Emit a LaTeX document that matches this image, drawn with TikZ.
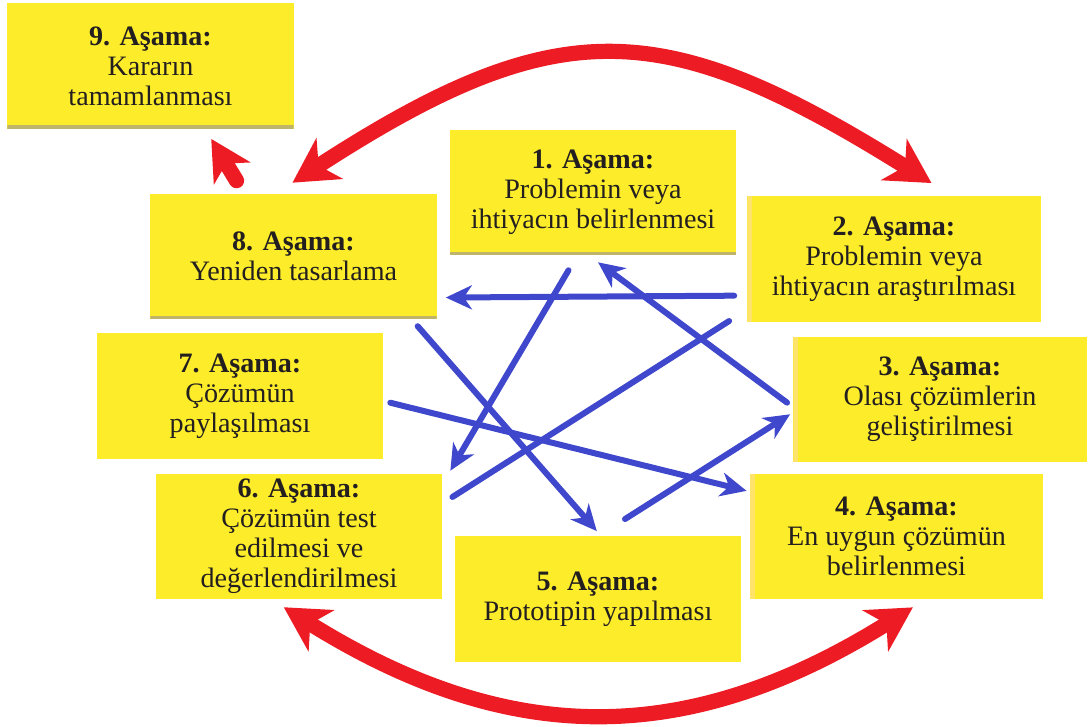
\documentclass[tikz,border=0pt]{standalone}
\usepackage{fontspec}
\setmainfont{Liberation Serif}
\usetikzlibrary{arrows.meta}
\definecolor{stageyellow}{HTML}{FCEC2A}
\definecolor{stagetan}{HTML}{BFB56A}
\definecolor{stagelight}{HTML}{FFE36B}
\definecolor{linkblue}{HTML}{3F48CC}
\definecolor{swingred}{HTML}{ED1C24}
\definecolor{textgray}{HTML}{231F20}

\begin{document}
\begin{tikzpicture}[x=0.025cm, y=-0.025cm, font=\fontsize{20}{21.3}\selectfont, text=textgray]
\tikzstyle{stage}=[fill=stageyellow, align=center, inner sep=0pt, minimum width=7.15cm, minimum height=3.125cm]
\tikzstyle{Wstage}=[stage, minimum width=7.325cm]
\tikzstyle{shadeB}=[path picture={\fill[stagetan] ([yshift=0.08cm]path picture bounding box.south west) rectangle (path picture bounding box.south east);}]
\tikzstyle{shadeL}=[path picture={\fill[stagelight] (path picture bounding box.south west) rectangle ([xshift=0.12cm]path picture bounding box.north west);}]
\tikzstyle{link}=[draw=linkblue, line width=0.15cm, line cap=round, -{Stealth[length=0.65cm, width=0.6cm, inset=0.2cm]}]
\tikzstyle{swing}=[draw=swingred, line width=0.38cm, {Stealth[length=1.1cm, width=1.2cm, inset=0.32cm]}-{Stealth[length=1.1cm, width=1.2cm, inset=0.32cm]}]
\tikzstyle{back}=[draw=swingred, line width=0.38cm, line cap=round, -{Stealth[length=1cm, width=1.05cm, inset=0.28cm]}]

\useasboundingbox (0,0) rectangle (1088,727);

\node[stage, shadeB] (b9) at (150.5,66) {\textbf{9. Aşama:}\\Kararın\\tamamlanması};
\node[stage, shadeB] (b1) at (593,192.5) {\textbf{1. Aşama:}\\Problemin veya\\ihtiyacın belirlenmesi};
\node[Wstage, shadeL] (b2) at (894,259) {\textbf{2. Aşama:}\\Problemin veya\\ihtiyacın araştırılması};
\node[Wstage, shadeL] (b3) at (940,399.5) {\textbf{3. Aşama:}\\Olası çözümlerin\\geliştirilmesi};
\node[Wstage, shadeL] (b4) at (896.5,536.5) {\textbf{4. Aşama:}\\En uygun çözümün\\belirlenmesi};
\node[stage] (b5) at (598,599) {\textbf{5. Aşama:}\\Prototipin yapılması};
\node[stage] (b6) at (299,536.5) {\textbf{6. Aşama:}\\Çözümün test\\edilmesi ve\\değerlendirilmesi};
\node[stage] (b7) at (240,396) {\textbf{7. Aşama:}\\Çözümün\\paylaşılması};
\node[stage, shadeB] (b8) at (293.5,256.5) {\textbf{8. Aşama:}\\Yeniden tasarlama};

\draw[link, shorten <=0.325cm, shorten >=0.225cm] (b2.194) -- (b8.344);
\draw[link, shorten <=0.435cm, shorten >=0.395cm] (b1.256) -- (b6.20);
\draw[link, shorten <=0.19cm, shorten >=0.295cm] (b3.183) -- (b1.266);
\draw[link, -, shorten <=0.3cm, shorten >=0.535cm] (b6.13) -- (b2.199);
\draw[link, shorten <=0.23cm, shorten >=0.17cm] (b8.332) -- (b5.87);
\draw[link, shorten <=0.18cm, shorten >=0.08cm] (b7.358) -- (b4.163);
\draw[link, shorten <=0.8cm, shorten >=0.09cm] (b5.90) -- (b3.185);

\draw[swing, shorten <=0.505cm, shorten >=0.62cm] (b8.106) to[out=33, in=148, looseness=1.28] (b2.47);
\draw[swing, shorten <=0.375cm, shorten >=0.38cm] (b6.246) to[out=-32, in=-148, looseness=1.1] (b4.295);
\draw[back, shorten <=0.38cm, shorten >=0.295cm] (b8.128) -- (b9.311);
\end{tikzpicture}
\end{document}
